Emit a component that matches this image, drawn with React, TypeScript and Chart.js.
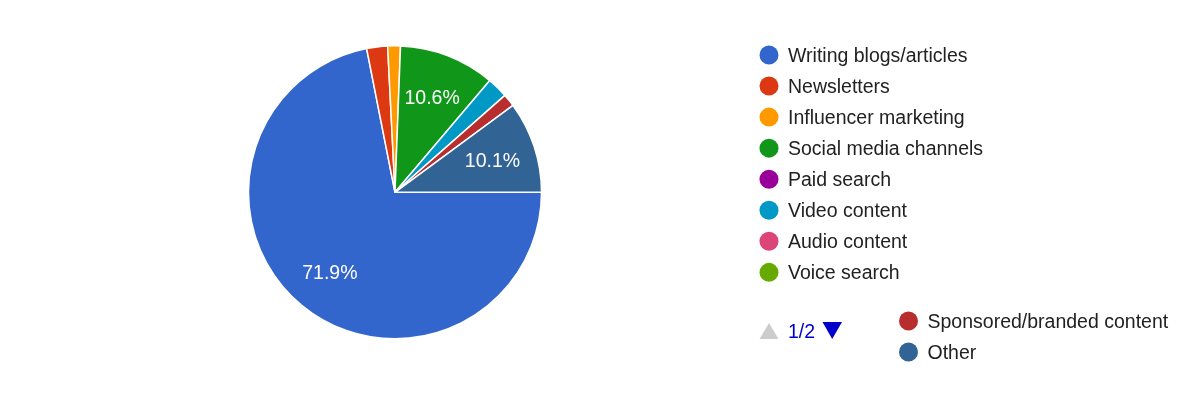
import React, { useEffect, useRef } from "react";
import { Chart, registerables } from "chart.js";

Chart.register(...registerables);

const categories = [
  "Writing blogs/articles",
  "Newsletters",
  "Influencer marketing",
  "Social media channels",
  "Paid search",
  "Video content",
  "Audio content",
  "Voice search",
  "Sponsored/branded content",
  "Other",
];
const shares = [71.9, 2.3, 1.4, 10.6, 0, 2.3, 0, 0, 1.4, 10.1];
const sliceColors = [
  "#3366cc",
  "#dc3912",
  "#ff9900",
  "#109618",
  "#990099",
  "#0099c6",
  "#dd4477",
  "#66aa00",
  "#b82e2e",
  "#316395",
];
const pageLabel = "1/2";
const firstPageCount = 8;
const labelThreshold = 5;

const FONT = "'Liberation Sans', Arial, Helvetica, sans-serif";
const FS = 19.5;

const sliceLabelPlugin = {
  id: "sliceLabels",
  afterDatasetsDraw(chart: any) {
    const ctx = chart.ctx;
    const meta = chart.getDatasetMeta(0);
    const values = chart.data.datasets[0].data as number[];
    ctx.save();
    ctx.font = `${FS}px ${FONT}`;
    ctx.fillStyle = "#ffffff";
    ctx.textAlign = "center";
    ctx.textBaseline = "alphabetic";
    meta.data.forEach((arc: any, i: number) => {
      const v = values[i];
      if (v < labelThreshold) return;
      const p = arc.getProps(["x", "y", "startAngle", "endAngle", "outerRadius"], true);
      const mid = (p.startAngle + p.endAngle) / 2;
      const r = p.outerRadius * 0.7;
      const tx = p.x + Math.cos(mid) * r;
      const ty = p.y + Math.sin(mid) * r;
      ctx.fillText(v.toFixed(1) + "%", tx, ty + FS * 0.716 / 2);
    });
    ctx.restore();
  },
};

const legendPlugin = {
  id: "pagedLegend",
  afterDraw(chart: any) {
    const ctx = chart.ctx;
    const labels = chart.data.labels as string[];
    const colors = chart.data.datasets[0].backgroundColor as string[];
    const rowH = 31.05;
    const capHalf = (FS * 0.716) / 2;
    ctx.save();
    ctx.font = `${FS}px ${FONT}`;
    ctx.textAlign = "left";
    ctx.textBaseline = "alphabetic";
    const drawItem = (i: number, cx: number, cy: number) => {
      ctx.beginPath();
      ctx.arc(cx, cy, 9.5, 0, Math.PI * 2);
      ctx.fillStyle = colors[i];
      ctx.fill();
      ctx.fillStyle = "#222222";
      ctx.fillText(labels[i], cx + 19, cy + capHalf);
    };
    // first column (page 1)
    for (let i = 0; i < firstPageCount; i++) {
      drawItem(i, 769, 55 + i * rowH);
    }
    // second column
    for (let i = firstPageCount; i < labels.length; i++) {
      drawItem(i, 908.5, 321 + (i - firstPageCount) * rowH);
    }
    // pagination
    const py = 331;
    ctx.fillStyle = "#cccccc";
    ctx.beginPath();
    ctx.moveTo(759.5, py + 8);
    ctx.lineTo(778.5, py + 8);
    ctx.lineTo(769, py - 8);
    ctx.closePath();
    ctx.fill();
    ctx.fillStyle = "#0000cc";
    ctx.fillText(pageLabel, 788, py + capHalf);
    ctx.beginPath();
    ctx.moveTo(822.5, py - 9);
    ctx.lineTo(842, py - 9);
    ctx.lineTo(832.2, py + 8);
    ctx.closePath();
    ctx.fill();
    ctx.restore();
  },
};

export default function App() {
  const ref = useRef<HTMLCanvasElement | null>(null);

  useEffect(() => {
    if (!ref.current) return;
    const chart = new Chart(ref.current, {
      type: "pie",
      data: {
        labels: categories,
        datasets: [
          {
            data: shares,
            backgroundColor: sliceColors,
            borderColor: "#ffffff",
            borderWidth: 1.5,
            radius: 146.5,
          } as any,
        ],
      },
      options: {
        animation: false,
        responsive: false,
        rotation: 90,
        layout: { padding: { left: 0, right: 410, top: 0, bottom: 11.4 } },
        plugins: {
          legend: { display: false },
          tooltip: { enabled: false },
        },
      },
      plugins: [sliceLabelPlugin, legendPlugin],
    });
    return () => chart.destroy();
  }, []);

  return (
    <div
      style={{
        position: "fixed",
        left: 0,
        top: 0,
        width: 1200,
        height: 396,
        background: "#ffffff",
      }}
    >
      <canvas ref={ref} width={1200} height={396} style={{ display: "block" }} />
    </div>
  );
}
